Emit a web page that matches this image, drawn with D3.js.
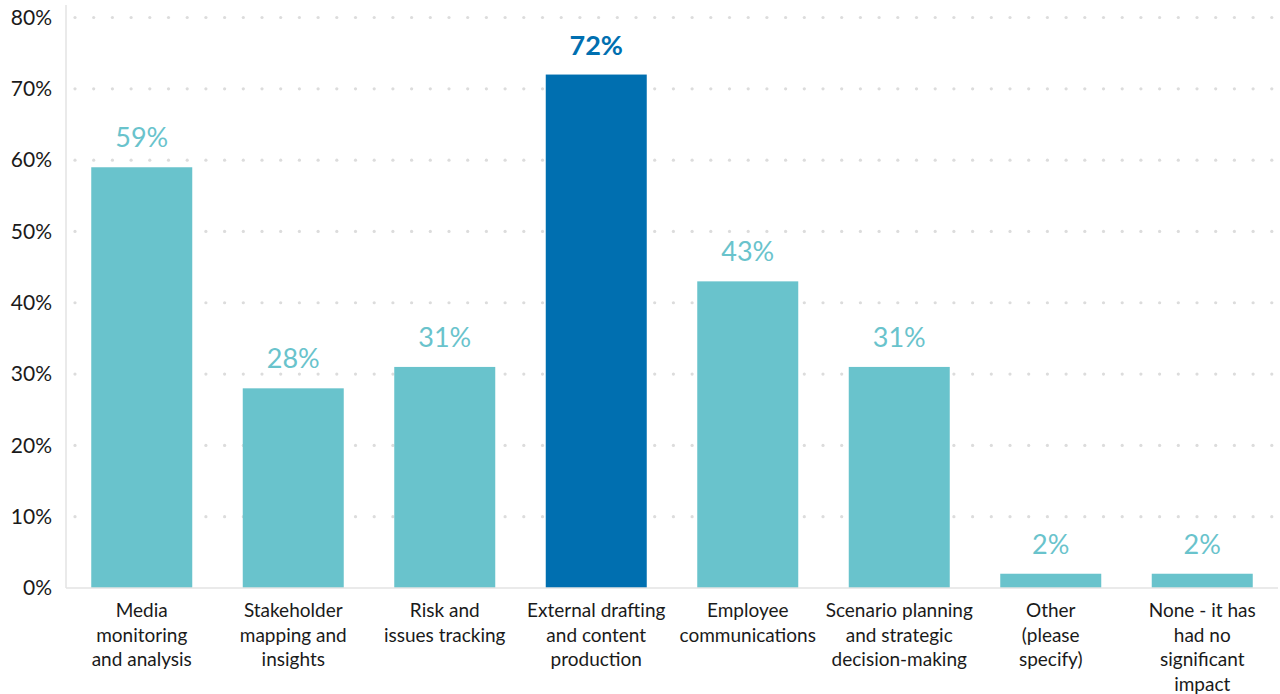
<!DOCTYPE html>
<html>
<head>
<meta charset="utf-8">
<script src="https://cdn.jsdelivr.net/npm/d3@7"></script>
<style>
  html, body { margin: 0; padding: 0; background: #fff; }
  svg { display: block; font-family: Lato, "Noto Sans", sans-serif; }
</style>
</head>
<body>
<svg id="chart" width="1280" height="694"></svg>
<script>
// Share of respondents by area of impact
const categories = [
  ["Media", "monitoring", "and analysis"],
  ["Stakeholder", "mapping and", "insights"],
  ["Risk and", "issues tracking"],
  ["External drafting", "and content", "production"],
  ["Employee", "communications"],
  ["Scenario planning", "and strategic", "decision-making"],
  ["Other", "(please", "specify)"],
  ["None - it has", "had no", "significant", "impact"]
];
const values = [59, 28, 31, 72, 43, 31, 2, 2];
const highlighted = [false, false, false, true, false, false, false, false];
const yTicks = [0, 10, 20, 30, 40, 50, 60, 70, 80];

const svg = d3.select("#chart");
const plotLeft = 66, plotRight = 1278, plotTop = 17.5, plotBottom = 588;

const x = d3.scaleBand()
  .domain(d3.range(categories.length))
  .range([plotLeft, plotRight])
  .paddingInner(1 / 3)
  .paddingOuter(1 / 6);

const y = d3.scaleLinear().domain([0, 80]).range([plotBottom, plotTop]);

// dotted gridlines
const dotStep = 18.7;
const dotXs = d3.range(plotLeft + 9, plotRight, dotStep);
yTicks.filter(t => t > 0).forEach(t => {
  svg.append("g").selectAll("circle")
    .data(dotXs).join("circle")
    .attr("cx", d => d).attr("cy", y(t)).attr("r", 1.6)
    .attr("fill", "#dcdcdc");
});

// y axis
const yAxis = d3.axisLeft(y).tickValues(yTicks).tickFormat(d => d + "%").tickSize(0).tickPadding(14);
const gy = svg.append("g").attr("transform", `translate(${plotLeft},0)`).call(yAxis);
gy.select(".domain").remove();
gy.selectAll("text").attr("font-size", 21).attr("fill", "#1a1a1a").attr("font-family", "Lato, sans-serif");
svg.append("line").attr("x1", plotLeft).attr("x2", plotLeft).attr("y1", 5).attr("y2", plotBottom)
  .attr("stroke", "#e3e3e3").attr("stroke-width", 1.5);

// bars
svg.append("g").selectAll("rect")
  .data(values).join("rect")
  .attr("x", (d, i) => x(i))
  .attr("width", x.bandwidth())
  .attr("y", d => y(d))
  .attr("height", d => plotBottom - y(d))
  .attr("fill", (d, i) => highlighted[i] ? "#006fb0" : "#69c3cc");

// baseline
svg.append("line").attr("x1", plotLeft).attr("x2", plotRight).attr("y1", plotBottom).attr("y2", plotBottom)
  .attr("stroke", "#e3e3e3").attr("stroke-width", 1.5);

// value labels
svg.append("g").selectAll("text")
  .data(values).join("text")
  .attr("x", (d, i) => x(i) + x.bandwidth() / 2)
  .attr("y", d => y(d) - 20)
  .attr("text-anchor", "middle")
  .attr("font-size", 27)
  .attr("font-weight", (d, i) => highlighted[i] ? 700 : 400)
  .attr("fill", (d, i) => highlighted[i] ? "#006fb0" : "#69c3cc")
  .text(d => d + "%");

// category labels
const catG = svg.append("g").selectAll("text")
  .data(categories).join("text")
  .attr("x", (d, i) => x(i) + x.bandwidth() / 2)
  .attr("y", 617)
  .attr("text-anchor", "middle")
  .attr("font-size", 19)
  .attr("fill", "#1a1a1a");
catG.selectAll("tspan")
  .data((d, i) => d.map(s => ({ s, i })))
  .join("tspan")
  .attr("x", d => x(d.i) + x.bandwidth() / 2)
  .attr("dy", (d, j) => j === 0 ? 0 : 24.5)
  .text(d => d.s);
</script>
</body>
</html>
